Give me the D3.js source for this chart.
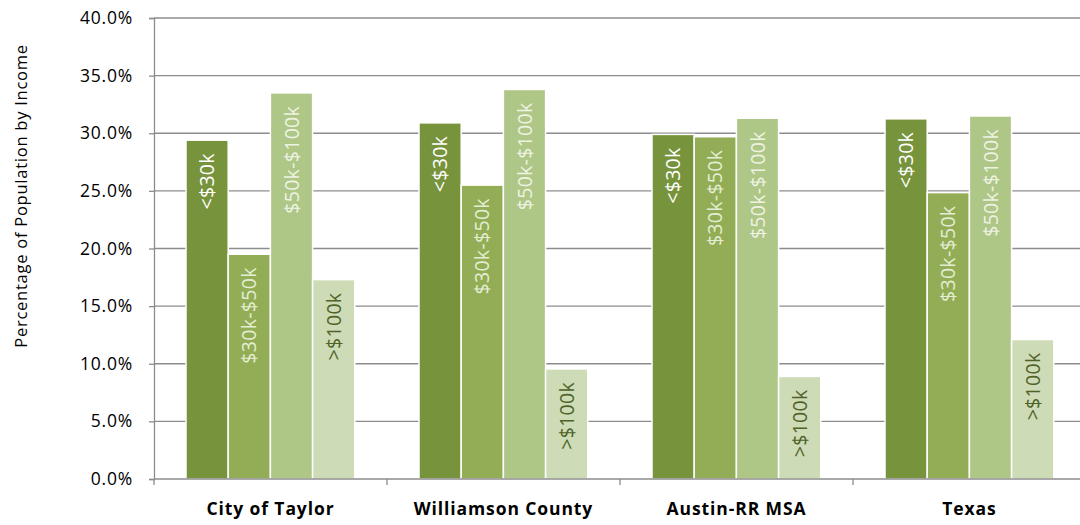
<!doctype html>
<html>
<head>
<meta charset="utf-8">
<title>Population by Income</title>
<script src="https://d3js.org/d3.v7.min.js"></script>
<style>
  body { margin: 0; background: #fff; }
  svg { display: block; font-family: "Open Sans", sans-serif; }
</style>
</head>
<body>
<div id="chart"></div>
<script>
const categories = ['City of Taylor', 'Williamson County', 'Austin-RR MSA', 'Texas']
const series = ['<$30k', '$30k-$50k', '$50k-$100k', '>$100k']
// percent values, one array per income band
const under30 = [29.4, 30.9, 29.9, 31.25]
const from30to50 = [19.5, 25.5, 29.7, 24.85]
const from50to100 = [33.5, 33.8, 31.3, 31.5]
const over100 = [17.3, 9.55, 8.9, 12.1]
const yTicks = [0, 5, 10, 15, 20, 25, 30, 35, 40]

const values = [under30, from30to50, from50to100, over100]
const fills = ['#77933c', '#92ad55', '#aec686', '#cddbb6']
const labelColors = ['#ffffff', '#e4edd3', '#eef3e4', '#4f6228']

const width = 1080, height = 525
const plotLeft = 154, plotTop = 18, plotBottom = 479
const bandW = 233

const svg = d3.select('#chart').append('svg')
    .attr('width', width).attr('height', height)

const x = d3.scaleBand().domain(categories).range([plotLeft, plotLeft + bandW * 4])
const xs = d3.scaleBand().domain(series).range([32, 32 + 4 * 42.2])
const y = d3.scaleLinear().domain([0, 40]).range([plotBottom, plotTop])

// gridlines
svg.append('g').selectAll('line')
    .data(yTicks.filter(d => d > 0))
    .join('line')
    .attr('x1', plotLeft).attr('x2', width)
    .attr('y1', d => y(d)).attr('y2', d => y(d))
    .attr('stroke', '#8c8c8c').attr('stroke-width', 1.3)

// y axis
const yAxis = svg.append('g')
    .attr('transform', `translate(${plotLeft},0)`)
    .call(d3.axisLeft(y).tickValues(yTicks).tickSize(5).tickPadding(16)
        .tickFormat(d => d.toFixed(1) + '%'))
yAxis.select('.domain').attr('stroke', '#8c8c8c').attr('stroke-width', 1.3)
yAxis.selectAll('.tick line').attr('stroke', '#8c8c8c').attr('stroke-width', 1.3)
yAxis.selectAll('.tick text').attr('font-size', 17.5).attr('fill', '#000')
    .attr('letter-spacing', 0.8)
    .attr('font-family', '"Open Sans", sans-serif')

// bars
const rows = []
categories.forEach((c, ci) => series.forEach((s, si) => {
    rows.push({ c, s, si, v: values[si][ci] })
}))

svg.append('g').selectAll('rect')
    .data(rows)
    .join('rect')
    .attr('x', d => x(d.c) + xs(d.s))
    .attr('width', xs.bandwidth())
    .attr('y', d => y(d.v))
    .attr('height', d => plotBottom - y(d.v))
    .attr('fill', d => fills[d.si])
    .attr('stroke', '#fff').attr('stroke-width', 1.5)

// x axis
const xAxis = svg.append('g')
    .attr('transform', `translate(0,${plotBottom})`)
xAxis.append('line')
    .attr('x1', plotLeft).attr('x2', width)
    .attr('stroke', '#8c8c8c').attr('stroke-width', 1.3)
xAxis.selectAll('.tk')
    .data(categories)
    .join('line')
    .attr('class', 'tk')
    .attr('x1', d => x(d)).attr('x2', d => x(d))
    .attr('y1', 0).attr('y2', 6)
    .attr('stroke', '#8c8c8c').attr('stroke-width', 1.3)
xAxis.selectAll('text')
    .data(categories)
    .join('text')
    .attr('x', d => x(d) + x.bandwidth() / 2)
    .attr('y', 36)
    .attr('text-anchor', 'middle')
    .attr('font-size', 17.5).attr('font-weight', 'bold')
    .attr('letter-spacing', 0.9)
    .text(d => d)

// bar labels (inside end, rotated)
svg.append('g').selectAll('text')
    .data(rows)
    .join('text')
    .attr('transform', d => {
        const cx = x(d.c) + xs(d.s) + xs.bandwidth() / 2
        return `translate(${cx},${y(d.v) + 13}) rotate(-90)`
    })
    .attr('text-anchor', 'end')
    .attr('dy', '0.36em')
    .attr('font-size', 19.5)
    .attr('letter-spacing', 0.3)
    .attr('fill', d => labelColors[d.si])
    .text(d => d.s)

// y title
svg.append('text')
    .attr('transform', 'translate(20,196) rotate(-90)')
    .attr('text-anchor', 'middle')
    .attr('dominant-baseline', 'central')
    .attr('font-size', 16.5)
    .attr('letter-spacing', 0.75)
    .text('Percentage of Population by Income')
</script>
</body>
</html>
